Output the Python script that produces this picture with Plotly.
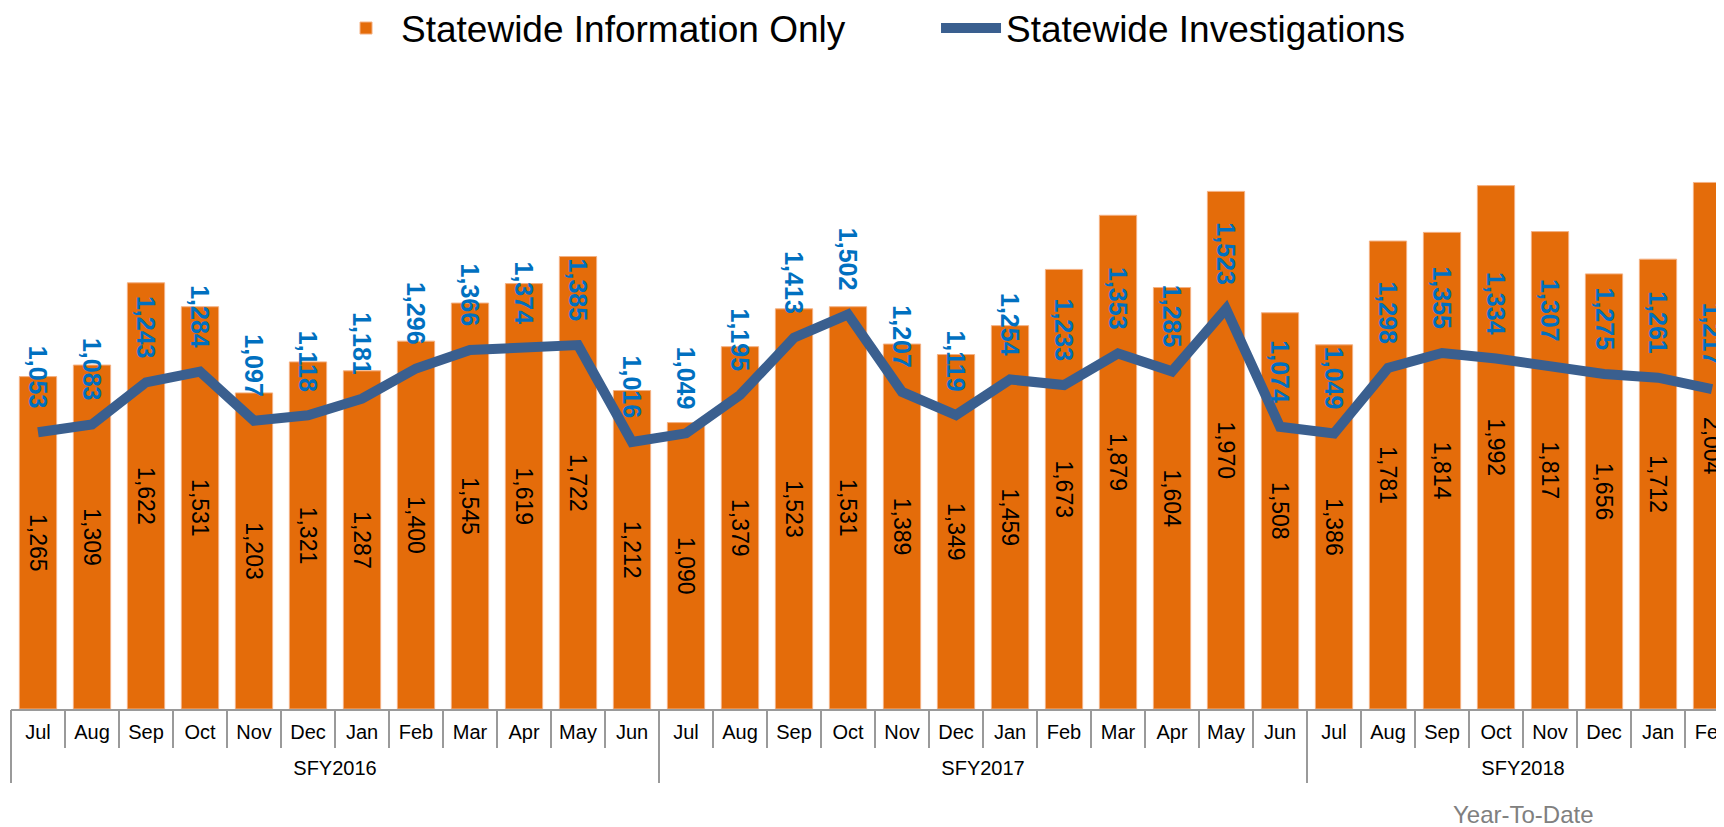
import plotly.graph_objects as go

fiscal_years = ["SFY2016"] * 12 + ["SFY2017"] * 12 + ["SFY2018"] * 8
months = ["Jul", "Aug", "Sep", "Oct", "Nov", "Dec", "Jan", "Feb", "Mar", "Apr", "May", "Jun"] * 2 + \
         ["Jul", "Aug", "Sep", "Oct", "Nov", "Dec", "Jan", "Feb"]

information_only = [1265, 1309, 1622, 1531, 1203, 1321, 1287, 1400, 1545, 1619, 1722, 1212,
                    1090, 1379, 1523, 1531, 1389, 1349, 1459, 1673, 1879, 1604, 1970, 1508,
                    1386, 1781, 1814, 1992, 1817, 1656, 1712, 2004]
investigations = [1053, 1083, 1243, 1284, 1097, 1118, 1181, 1296, 1366, 1374, 1385, 1016,
                  1049, 1195, 1413, 1502, 1207, 1119, 1254, 1233, 1353, 1285, 1523, 1074,
                  1049, 1298, 1355, 1334, 1307, 1275, 1261, 1217]

FONT = "Liberation Sans, Arial, sans-serif"
ORANGE = "#E46C0A"
LINE_BLUE = "#3A5F8F"
LABEL_BLUE = "#0070C0"
AXIS_GRAY = "#9A9A9A"

# category positions derived from the month list
idx = list(range(len(months)))

# fiscal-year groups: centers and boundaries
groups = []
for i, fy in enumerate(fiscal_years):
    if not groups or groups[-1][0] != fy:
        groups.append([fy, i, i])
    else:
        groups[-1][2] = i
group_names = [g[0] for g in groups]
group_centers = [(g[1] + g[2]) / 2 for g in groups]
group_bounds = [g[1] - 0.5 for g in groups] + [groups[-1][2] + 0.5]

fig = go.Figure()
fig.add_trace(go.Bar(
    x=idx, y=information_only, name="Statewide Information Only",
    marker=dict(color=ORANGE, line=dict(color="#F4B183", width=1)),
    texttemplate="%{y:,}", textposition="inside", insidetextanchor="middle",
    textangle=90, constraintext="none",
    textfont=dict(family=FONT, size=23, color="#000000"),
    hoverinfo="skip",
))
fig.add_trace(go.Scatter(
    x=idx, y=investigations, name="Statewide Investigations", mode="lines",
    xaxis="x2", yaxis="y",
    line=dict(color=LINE_BLUE, width=10),
    hoverinfo="skip",
))

for i, v in zip(idx, investigations):
    fig.add_annotation(
        x=i, y=v, xref="x", yref="y", text=f"{v:,}", showarrow=False,
        textangle=90, yanchor="bottom", yshift=22,
        font=dict(family=FONT, size=25, color=LABEL_BLUE, weight="bold"),
    )

fig.add_annotation(
    text="Year-To-Date", xref="x", yref="paper", x=group_centers[-1], y=-0.162,
    xanchor="center", yanchor="middle", showarrow=False,
    font=dict(family=FONT, size=24, color="#808080"),
)

X_RANGE = [-0.5, 31.222]

fig.update_layout(
    width=1716, height=819,
    margin=dict(l=3, r=0, t=52, b=118, autoexpand=False),
    paper_bgcolor="white", plot_bgcolor="white",
    font=dict(family=FONT, size=20, color="#000000"),
    bargap=0.31,
    showlegend=True,
    legend=dict(orientation="h", x=0.540, xanchor="center", yref="container", y=0.975,
                yanchor="middle", font=dict(family=FONT, size=37, color="#000000"),
                itemwidth=60, entrywidth=530, tracegroupgap=0),
    xaxis=dict(
        range=X_RANGE, automargin=False,
        showline=True, linecolor=AXIS_GRAY, linewidth=1.5,
        tickmode="array", tickvals=idx, ticktext=months, ticks="",
        ticklabelstandoff=4, ticklabeloverflow="allow",
        minor=dict(tickmode="linear", tick0=-0.5, dtick=1, ticks="outside", ticklen=37,
                   tickcolor=AXIS_GRAY, tickwidth=1.5, showgrid=False),
        tickfont=dict(family=FONT, size=20, color="#000000"),
        showgrid=False, zeroline=False,
    ),
    xaxis2=dict(
        range=X_RANGE, overlaying="x", anchor="y", side="bottom", automargin=False,
        showline=False, tickmode="array", tickvals=group_centers, ticktext=group_names, ticks="",
        ticklabelstandoff=45, ticklabeloverflow="allow",
        minor=dict(tickmode="array", tickvals=group_bounds, ticks="outside", ticklen=73,
                   tickcolor=AXIS_GRAY, tickwidth=1.5, showgrid=False),
        tickfont=dict(family=FONT, size=20, color="#000000"),
        showgrid=False, zeroline=False,
    ),
    yaxis=dict(range=[0, 2470], visible=False, showgrid=False, zeroline=False, automargin=False),
)

fig.write_html("out.html")
